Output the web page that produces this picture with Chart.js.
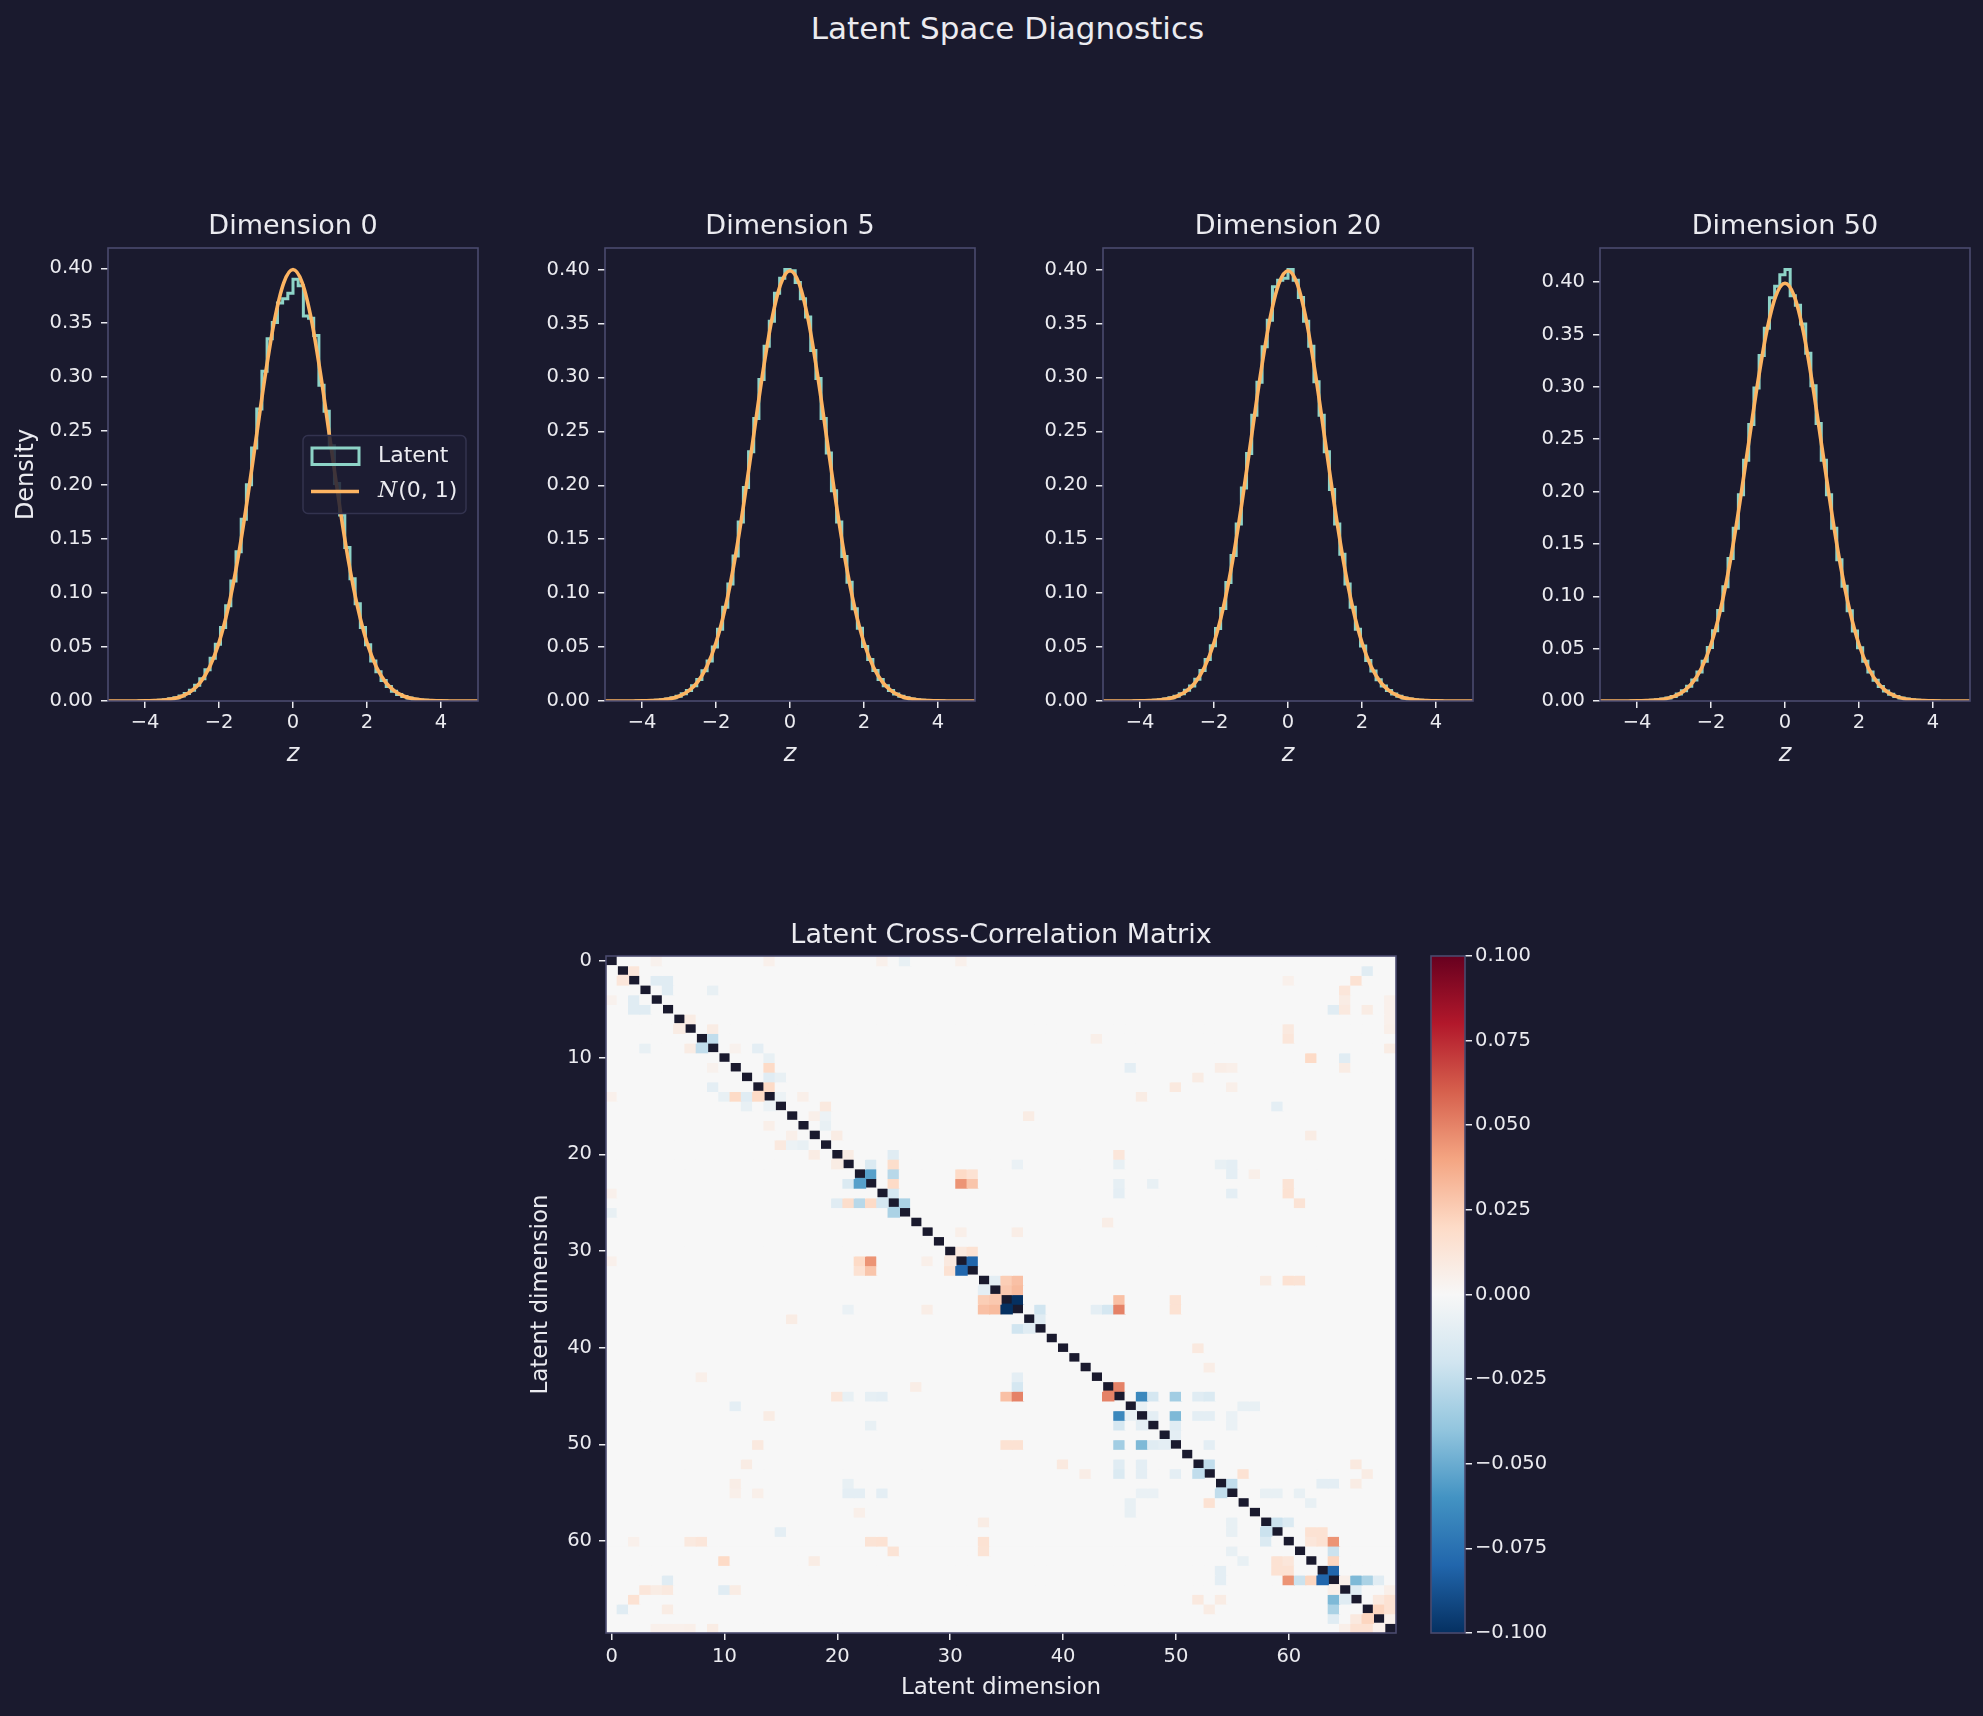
<!DOCTYPE html>
<html>
<head>
<meta charset="utf-8">
<script src="https://cdn.jsdelivr.net/npm/chart.js@4.4.0/dist/chart.umd.min.js"></script>
<style>
  html, body { margin: 0; padding: 0; background: #1a1a2e; }
  body { width: 1983px; height: 1716px; position: relative; overflow: hidden; font-family: 'DejaVu Sans', sans-serif; }
  #suptitle { position: absolute; left: 16px; top: 10px; width: 1983px; text-align: center; color: #ebebf0; font-size: 31px; line-height: 36px; }
  canvas { position: absolute; }
</style>
</head>
<body>
<div id="suptitle">Latent Space Diagnostics</div>
<canvas id="hist0" width="497" height="600" style="left:3px;top:190px"></canvas>
<canvas id="hist1" width="497" height="600" style="left:500px;top:190px"></canvas>
<canvas id="hist2" width="497" height="600" style="left:998px;top:190px"></canvas>
<canvas id="hist3" width="497" height="600" style="left:1495px;top:190px"></canvas>
<canvas id="heat" width="940" height="816" style="left:480px;top:900px"></canvas>
<canvas id="cbar" width="200" height="816" style="left:1410px;top:900px"></canvas>
<script>
// theme
const BG = "#1a1a2e";
const TEXT = "#ebebf0";
const SPINE = "#4a4a6e";
const TEAL = "#8dd3c7";
const ORANGE = "#fdb462";
const FONT = "'DejaVu Sans', sans-serif";

// --- histogram data ---
const panelDims = [0, 5, 20, 50];
const binEdges = [-4.20, -4.06, -3.92, -3.78, -3.64, -3.50, -3.36, -3.22, -3.08, -2.94, -2.80, -2.66, -2.52, -2.38, -2.24,
  -2.10, -1.96, -1.82, -1.68, -1.54, -1.40, -1.26, -1.12, -0.98, -0.84, -0.70, -0.56, -0.42, -0.28, -0.14, 0,
  0.14, 0.28, 0.42, 0.56, 0.70, 0.84, 0.98, 1.12, 1.26, 1.40, 1.54, 1.68, 1.82, 1.96, 2.10, 2.24, 2.38, 2.52,
  2.66, 2.80, 2.94, 3.08, 3.22, 3.36, 3.50, 3.64, 3.78, 3.92, 4.06, 4.20];

const histDim0 = [0.0000, 0.0001, 0.0002, 0.0004, 0.0008, 0.0012, 0.0020, 0.0030, 0.0046, 0.0070,
  0.0100, 0.0146, 0.0205, 0.0290, 0.0395, 0.0525, 0.0680, 0.0880, 0.1110, 0.1380,
  0.1680, 0.2000, 0.2340, 0.2700, 0.3050, 0.3350, 0.3500, 0.3680, 0.3720, 0.3770,
  0.3900, 0.3840, 0.3560, 0.3540, 0.3380, 0.2920, 0.2680, 0.2360, 0.2010, 0.1720,
  0.1420, 0.1130, 0.0900, 0.0680, 0.0520, 0.0370, 0.0270, 0.0190, 0.0135, 0.0090,
  0.0060, 0.0042, 0.0027, 0.0017, 0.0010, 0.0006, 0.0004, 0.0002, 0.0001, 0.0000];
const histDim5 = [0.0000, 0.0001, 0.0002, 0.0003, 0.0006, 0.0011, 0.0019, 0.0029, 0.0045, 0.0067,
  0.0098, 0.0142, 0.0200, 0.0280, 0.0372, 0.0500, 0.0665, 0.0870, 0.1085, 0.1345,
  0.1660, 0.1980, 0.2310, 0.2620, 0.2980, 0.3290, 0.3520, 0.3780, 0.3920, 0.4000,
  0.3990, 0.3880, 0.3730, 0.3560, 0.3250, 0.2990, 0.2620, 0.2300, 0.1950, 0.1660,
  0.1340, 0.1100, 0.0855, 0.0675, 0.0505, 0.0385, 0.0282, 0.0200, 0.0142, 0.0098,
  0.0066, 0.0045, 0.0030, 0.0019, 0.0012, 0.0007, 0.0004, 0.0002, 0.0001, 0.0000];
const histDim20 = [0.0000, 0.0001, 0.0002, 0.0004, 0.0007, 0.0012, 0.0019, 0.0030, 0.0045, 0.0068,
  0.0099, 0.0140, 0.0202, 0.0282, 0.0384, 0.0512, 0.0672, 0.0858, 0.1098, 0.1350,
  0.1640, 0.1975, 0.2295, 0.2650, 0.2955, 0.3285, 0.3530, 0.3840, 0.3900, 0.3920,
  0.4000, 0.3900, 0.3740, 0.3520, 0.3290, 0.2960, 0.2650, 0.2310, 0.1960, 0.1640,
  0.1360, 0.1085, 0.0870, 0.0665, 0.0510, 0.0376, 0.0278, 0.0196, 0.0140, 0.0097,
  0.0064, 0.0043, 0.0028, 0.0018, 0.0011, 0.0007, 0.0004, 0.0002, 0.0001, 0.0000];
const histDim50 = [0.0000, 0.0001, 0.0002, 0.0003, 0.0007, 0.0011, 0.0018, 0.0028, 0.0044, 0.0066,
  0.0097, 0.0140, 0.0200, 0.0276, 0.0380, 0.0510, 0.0670, 0.0865, 0.1090, 0.1360,
  0.1650, 0.1970, 0.2300, 0.2640, 0.2990, 0.3300, 0.3560, 0.3850, 0.3960, 0.4070,
  0.4120, 0.3870, 0.3780, 0.3600, 0.3320, 0.3010, 0.2650, 0.2300, 0.1970, 0.1650,
  0.1350, 0.1095, 0.0862, 0.0668, 0.0508, 0.0380, 0.0277, 0.0198, 0.0139, 0.0096,
  0.0065, 0.0043, 0.0028, 0.0018, 0.0011, 0.0007, 0.0004, 0.0002, 0.0001, 0.0000];
const histValues = [histDim0, histDim5, histDim20, histDim50];

// N(0,1) reference curve, tabulated
const normX = [-5, -4.75, -4.5, -4.25, -4, -3.75, -3.5, -3.25, -3, -2.75, -2.5, -2.25, -2, -1.75, -1.5, -1.25, -1,
  -0.75, -0.5, -0.25, 0, 0.25, 0.5, 0.75, 1, 1.25, 1.5, 1.75, 2, 2.25, 2.5, 2.75, 3, 3.25, 3.5, 3.75, 4, 4.25, 4.5, 4.75, 5];
const normY = [0.0000, 0.0000, 0.0000, 0.0000, 0.0001, 0.0004, 0.0009, 0.0020, 0.0044, 0.0091, 0.0175, 0.0317, 0.0540,
  0.0863, 0.1295, 0.1826, 0.2420, 0.3011, 0.3521, 0.3867, 0.3989, 0.3867, 0.3521, 0.3011, 0.2420, 0.1826, 0.1295,
  0.0863, 0.0540, 0.0317, 0.0175, 0.0091, 0.0044, 0.0020, 0.0009, 0.0004, 0.0001, 0.0000, 0.0000, 0.0000, 0.0000];

const histXTicks = [-4, -2, 0, 2, 4];
const histYTicks = [0, 0.05, 0.10, 0.15, 0.20, 0.25, 0.30, 0.35, 0.40];

// --- correlation matrix (upper triangle, mirrored; diagonal masked) ---
const corrN = 70;
const corrMin = -0.1;
const corrMax = 0.1;
const corrCells = [
  [0, 4, 0.004], [0, 14, 0.005], [0, 24, 0.005], [0, 26, -0.008], [0, 31, 0.005],
  [1, 2, 0.012], [1, 67, -0.012],
  [2, 4, -0.012], [2, 5, -0.012], [2, 60, 0.005], [2, 66, 0.015],
  [3, 5, -0.012], [3, 9, -0.008], [3, 65, 0.012],
  [4, 65, 0.008], [4, 69, 0.005],
  [5, 64, -0.012], [5, 65, 0.01], [5, 67, 0.008], [5, 69, 0.005],
  [6, 7, 0.008], [6, 69, 0.005],
  [7, 9, 0.008], [7, 60, 0.01], [7, 69, 0.006],
  [8, 9, -0.025], [8, 43, 0.006], [8, 60, 0.012],
  [9, 11, 0.004], [9, 13, -0.01], [9, 69, 0.008],
  [10, 14, -0.008], [10, 62, 0.02], [10, 65, -0.012],
  [11, 14, 0.02], [11, 46, -0.01], [11, 54, 0.007], [11, 55, 0.006], [11, 65, 0.008],
  [12, 14, -0.012], [12, 15, -0.008], [12, 52, 0.008],
  [13, 14, 0.02], [13, 50, 0.01], [13, 55, 0.006],
  [14, 15, -0.006], [14, 17, 0.006], [14, 47, 0.008],
  [15, 19, 0.01], [15, 59, -0.01],
  [16, 18, 0.006], [16, 19, -0.006], [16, 37, 0.008],
  [17, 19, -0.008],
  [18, 20, 0.008], [18, 62, 0.008],
  [20, 21, 0.008], [20, 25, -0.012], [20, 45, 0.012],
  [21, 23, -0.015], [21, 25, 0.018], [21, 36, -0.007], [21, 45, -0.008], [21, 54, -0.008], [21, 55, -0.01],
  [22, 23, -0.055], [22, 25, -0.028], [22, 31, 0.02], [22, 32, 0.015], [22, 55, -0.01], [22, 57, 0.006],
  [23, 25, 0.02], [23, 31, 0.045], [23, 32, 0.028], [23, 45, -0.009], [23, 48, -0.008], [23, 60, 0.014],
  [24, 25, -0.018], [24, 45, -0.01], [24, 55, -0.01], [24, 60, 0.015],
  [25, 26, -0.032], [25, 61, 0.014],
  [27, 44, 0.007],
  [28, 31, 0.006], [28, 36, 0.007],
  [30, 31, 0.01], [30, 32, 0.015],
  [31, 32, -0.08],
  [33, 34, -0.01], [33, 35, 0.025], [33, 36, 0.03], [33, 58, 0.008], [33, 60, 0.015], [33, 61, 0.014],
  [34, 35, 0.027], [34, 36, 0.032],
  [35, 36, -0.1], [35, 45, 0.03], [35, 50, 0.015],
  [36, 38, -0.02], [36, 43, -0.01], [36, 44, -0.018], [36, 45, 0.05], [36, 50, 0.015],
  [37, 38, -0.012],
  [40, 52, 0.01],
  [42, 53, 0.007],
  [44, 45, 0.05],
  [45, 47, -0.065], [45, 48, -0.018], [45, 50, -0.035], [45, 52, -0.012], [45, 53, -0.015],
  [46, 47, -0.008], [46, 56, -0.008], [46, 57, -0.008],
  [47, 48, -0.01], [47, 50, -0.045], [47, 52, -0.01], [47, 53, -0.01], [47, 55, -0.007],
  [48, 50, -0.012], [48, 55, -0.007],
  [49, 50, -0.01],
  [50, 53, -0.01],
  [52, 53, -0.025], [52, 66, 0.01],
  [53, 56, 0.015], [53, 67, 0.008],
  [54, 55, -0.025], [54, 63, -0.01], [54, 64, -0.01], [54, 66, 0.008],
  [55, 58, -0.008], [55, 59, -0.008], [55, 61, -0.008],
  [56, 62, -0.008],
  [58, 59, -0.022], [58, 60, -0.015],
  [59, 62, 0.015], [59, 63, 0.015],
  [60, 62, 0.012], [60, 63, 0.015], [60, 64, 0.045],
  [61, 64, -0.022],
  [62, 64, 0.022],
  [63, 64, -0.08],
  [64, 65, 0.006], [64, 66, -0.045], [64, 67, -0.032], [64, 68, -0.012],
  [65, 66, -0.012], [65, 69, 0.006],
  [66, 68, 0.01], [66, 69, 0.015],
  [67, 68, 0.022], [67, 69, 0.015],
  [68, 69, 0.005],
];
const corrTicks = [0, 10, 20, 30, 40, 50, 60];
const cbarTicks = [-0.1, -0.075, -0.05, -0.025, 0, 0.025, 0.05, 0.075, 0.1];

// RdBu_r colour stops
const rdbuStops = ["#053061", "#2166ac", "#4393c3", "#92c5de", "#d1e5f0", "#f7f7f7",
  "#fddbc7", "#f4a582", "#d6604d", "#b2182b", "#67001f"];

function hexToRgb(hex) {
  return [parseInt(hex.slice(1, 3), 16), parseInt(hex.slice(3, 5), 16), parseInt(hex.slice(5, 7), 16)];
}

function cmapRdBuR(v) {
  const n = rdbuStops.length - 1;
  const t = Math.min(1, Math.max(0, (v - corrMin) / (corrMax - corrMin))) * n;
  const i = Math.min(Math.floor(t), n - 1);
  const f = t - i;
  const a = hexToRgb(rdbuStops[i]);
  const b = hexToRgb(rdbuStops[i + 1]);
  const c = a.map((x, k) => Math.round(x + (b[k] - x) * f));
  return `rgb(${c[0]}, ${c[1]}, ${c[2]})`;
}

const minus = (s) => s.replace("-", "\u2212");

// spines on all four sides
const spinePlugin = {
  id: "spines",
  afterDraw(chart) {
    const { ctx, chartArea: a } = chart;
    ctx.save();
    ctx.strokeStyle = SPINE;
    ctx.lineWidth = 1.6;
    ctx.strokeRect(a.left, a.top, a.right - a.left, a.bottom - a.top);
    ctx.restore();
  },
};

// legend drawn inside the first panel (centre right)
const histLegendPlugin = {
  id: "histLegend",
  afterDatasetsDraw(chart, args, opts) {
    if (!opts.show) return;
    const { ctx, chartArea } = chart;
    const w = 163, h = 78;
    const x0 = chartArea.right - 12 - w;
    const y0 = (chartArea.top + chartArea.bottom) / 2 - h / 2;
    ctx.save();
    ctx.beginPath();
    ctx.roundRect(x0, y0, w, h, 5);
    ctx.fillStyle = "rgba(29, 29, 50, 0.85)";
    ctx.fill();
    ctx.strokeStyle = "#33334f";
    ctx.lineWidth = 1.5;
    ctx.stroke();
    // Latent patch
    ctx.strokeStyle = TEAL;
    ctx.lineWidth = 3;
    ctx.strokeRect(x0 + 9, y0 + 12.5, 47, 16.5);
    // N(0,1) line
    ctx.strokeStyle = ORANGE;
    ctx.lineWidth = 3.5;
    ctx.beginPath();
    ctx.moveTo(x0 + 8, y0 + 56);
    ctx.lineTo(x0 + 56, y0 + 56);
    ctx.stroke();
    ctx.fillStyle = TEXT;
    ctx.textBaseline = "middle";
    ctx.font = "22px " + FONT;
    ctx.fillText("Latent", x0 + 75, y0 + 21);
    ctx.font = "italic 22px 'DejaVu Serif', serif";
    ctx.fillText("N", x0 + 75, y0 + 56);
    const nw = ctx.measureText("N").width;
    ctx.font = "22px " + FONT;
    ctx.fillText("(0, 1)", x0 + 75 + nw + 1, y0 + 56);
    ctx.restore();
  },
};

const tickFont = { family: FONT, size: 19.5 };

// --- histogram panels ---
histValues.forEach((hist, i) => {
  const stepPts = [{ x: binEdges[0], y: 0 }];
  hist.forEach((h, k) => stepPts.push({ x: binEdges[k], y: h }));
  stepPts.push({ x: binEdges[binEdges.length - 1], y: 0 });
  const curvePts = normX.map((x, j) => ({ x: x, y: normY[j] }));
  const yMax = 1.05 * Math.max(...hist, ...normY);

  new Chart(document.getElementById("hist" + i), {
    type: "line",
    data: {
      datasets: [
        { label: "N(0,1)", data: curvePts, borderColor: ORANGE, borderWidth: 3.6, pointRadius: 0,
          cubicInterpolationMode: "monotone", fill: false, order: 0 },
        { label: "Latent", data: stepPts, borderColor: TEAL, borderWidth: 3, pointRadius: 0,
          stepped: "before", borderJoinStyle: "miter", fill: false, order: 1 },
      ],
    },
    options: {
      responsive: false,
      animation: false,
      events: [],
      layout: { padding: { left: 0, right: 22, top: 0, bottom: 0 } },
      plugins: {
        legend: { display: false },
        tooltip: { enabled: false },
        title: {
          display: true, fullSize: false, text: "Dimension " + panelDims[i], color: TEXT,
          font: { family: FONT, size: 27, weight: "normal", lineHeight: 1.2 },
          padding: { top: 21, bottom: 4.6 },
        },
        histLegend: { show: i === 0 },
      },
      scales: {
        x: {
          type: "linear", min: -5, max: 5,
          afterBuildTicks: (s) => { s.ticks = histXTicks.map((v) => ({ value: v })); },
          afterFit: (s) => { s.height = 89; },
          ticks: { color: TEXT, font: tickFont, padding: 3, maxRotation: 0, callback: (v) => minus(String(v)) },
          grid: { drawOnChartArea: false, drawTicks: true, tickLength: 7, color: TEXT, lineWidth: 1.5 },
          border: { display: false },
          title: { display: true, text: "z", color: TEXT, font: { family: FONT, size: 24, style: "italic", lineHeight: 1.2 },
            padding: { top: 0, bottom: 20.6 } },
        },
        y: {
          type: "linear", min: 0, max: yMax,
          afterBuildTicks: (s) => { s.ticks = histYTicks.map((v) => ({ value: v })); },
          afterFit: (s) => { s.width = 105; },
          ticks: { color: TEXT, font: tickFont, padding: 8, callback: (v) => v.toFixed(2) },
          grid: { drawOnChartArea: false, drawTicks: true, tickLength: 7, color: TEXT, lineWidth: 1.5 },
          border: { display: false },
          title: { display: i === 0, text: "Density", color: TEXT, font: { family: FONT, size: 24, lineHeight: 1.2 },
            padding: { top: 9.3, bottom: 0 } },
        },
      },
    },
    plugins: [spinePlugin, histLegendPlugin],
  });
});

// --- correlation heatmap ---
const corr = Array.from({ length: corrN }, () => new Array(corrN).fill(0));
corrCells.forEach(([r, c, v]) => { corr[r][c] = v; corr[c][r] = v; });
const dimLabels = Array.from({ length: corrN }, (_, k) => String(k));

const heatDatasets = corr.map((row, r) => ({
  data: row.map((v, c) => (r === c ? null : [r - 0.5, r + 0.5])),
  backgroundColor: row.map((v) => cmapRdBuR(v)),
  grouped: false,
  barPercentage: 1,
  categoryPercentage: 1,
  borderWidth: 0,
  inflateAmount: 0.6,
}));

new Chart(document.getElementById("heat"), {
  type: "bar",
  data: { labels: dimLabels, datasets: heatDatasets },
  options: {
    responsive: false,
    animation: false,
    events: [],
    layout: { padding: { left: 0, right: 24, top: 0, bottom: 0 } },
    plugins: {
      legend: { display: false },
      tooltip: { enabled: false },
      title: {
        display: true, fullSize: false, text: "Latent Cross-Correlation Matrix", color: TEXT,
        font: { family: FONT, size: 27, weight: "normal", lineHeight: 1.2 },
        padding: { top: 19.8, bottom: 3.8 },
      },
    },
    scales: {
      x: {
        type: "category", offset: true,
        afterBuildTicks: (s) => { s.ticks = s.ticks.filter((t) => corrTicks.includes(t.value)); },
        afterFit: (s) => { s.height = 83; },
        ticks: { color: TEXT, font: tickFont, padding: 5, autoSkip: false, maxRotation: 0 },
        grid: { offset: false, drawOnChartArea: false, drawTicks: true, tickLength: 7, color: TEXT, lineWidth: 1.5 },
        border: { display: false },
        title: { display: true, text: "Latent dimension", color: TEXT, font: { family: FONT, size: 23, lineHeight: 1.2 },
          padding: { top: 0, bottom: 14.2 } },
      },
      y: {
        type: "linear", min: -0.5, max: corrN - 0.5, reverse: true,
        afterBuildTicks: (s) => { s.ticks = corrTicks.map((v) => ({ value: v })); },
        afterFit: (s) => { s.width = 126; },
        ticks: { color: TEXT, font: tickFont, padding: 7, callback: (v) => String(v) },
        grid: { drawOnChartArea: false, drawTicks: true, tickLength: 7, color: TEXT, lineWidth: 1.5 },
        border: { display: false },
        title: { display: true, text: "Latent dimension", color: TEXT, font: { family: FONT, size: 23, lineHeight: 1.2 },
          padding: { top: 47.2, bottom: 0 } },
      },
    },
  },
  plugins: [spinePlugin],
});

// --- colorbar ---
new Chart(document.getElementById("cbar"), {
  type: "bar",
  data: {
    labels: [""],
    datasets: [{
      data: [[corrMin, corrMax]],
      backgroundColor: (context) => {
        const chart = context.chart;
        const { ctx, chartArea, scales } = chart;
        if (!chartArea) return null;
        const y0 = scales.y.getPixelForValue(corrMin);
        const y1 = scales.y.getPixelForValue(corrMax);
        const g = ctx.createLinearGradient(0, y0, 0, y1);
        rdbuStops.forEach((c, k) => g.addColorStop(k / (rdbuStops.length - 1), c));
        return g;
      },
      barPercentage: 1,
      categoryPercentage: 1,
      borderWidth: 0,
      inflateAmount: 0,
    }],
  },
  options: {
    responsive: false,
    animation: false,
    events: [],
    layout: { padding: { left: 21, right: 0, top: 56, bottom: 83 } },
    plugins: { legend: { display: false }, tooltip: { enabled: false } },
    scales: {
      x: { display: false, offset: true },
      y: {
        position: "right", min: corrMin, max: corrMax,
        afterBuildTicks: (s) => { s.ticks = cbarTicks.map((v) => ({ value: v })); },
        afterFit: (s) => { s.width = 145; },
        ticks: { color: TEXT, font: tickFont, padding: 3, callback: (v) => minus(v.toFixed(3)) },
        grid: { drawOnChartArea: false, drawTicks: true, tickLength: 7, color: TEXT, lineWidth: 1.5 },
        border: { display: false },
      },
    },
  },
  plugins: [spinePlugin],
});
</script>
</body>
</html>
